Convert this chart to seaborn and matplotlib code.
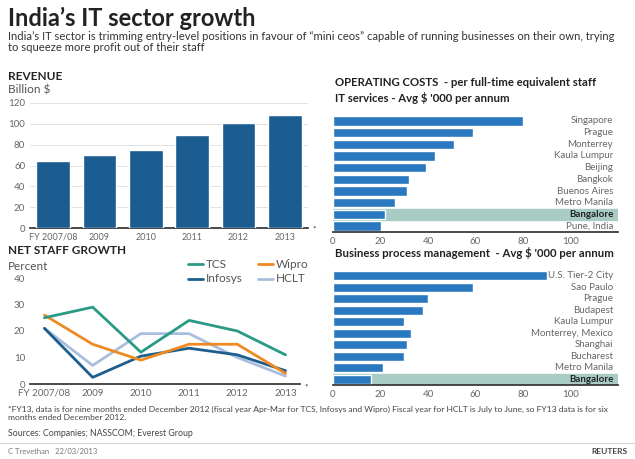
import matplotlib
matplotlib.use("Agg")
import matplotlib.pyplot as plt
import seaborn as sns
import pandas as pd

years = ["FY 2007/08", "2009", "2010", "2011", "2012", "2013"]
revenue = [64, 70, 75, 89, 101, 108]
tcs = [25, 29, 12, 24, 20, 11]
wipro = [26, 15, 9, 15, 15, 4]
infosys = [21, 2.5, 10.5, 13.5, 11, 5]
hclt = [21, 7, 19, 19, 10, 3]
it_cities = ["Singapore", "Prague", "Monterrey", "Kaula Lumpur", "Beijing", "Bangkok",
             "Buenos Aires", "Metro Manila", "Bangalore", "Pune, India"]
it_costs = [80, 59, 51, 43, 39, 32, 31, 26, 22, 20]
bpm_cities = ["U.S. Tier-2 City", "Sao Paulo", "Prague", "Budapest", "Kaula Lumpur",
              "Monterrey, Mexico", "Shanghai", "Bucharest", "Metro Manila", "Bangalore"]
bpm_costs = [90, 59, 40, 38, 30, 33, 31, 30, 21, 16]

sns.set_theme(style="white")
plt.rcParams['font.family'] = ['Lato', 'DejaVu Sans']
W, H = 635, 459
fig = plt.figure(figsize=(W/100, H/100), dpi=100)
def ax_px(x0, y0, x1, y1):
    return fig.add_axes([x0/W, 1-y1/H, (x1-x0)/W, (y1-y0)/H])

BLUE = "#2a78bf"
fig.text(8/W, 1-18/H, "India’s IT sector growth", fontsize=17, fontweight="bold", va="center", color="#222")
fig.text(8/W, 1-42/H, "India’s IT sector is trimming entry-level positions in favour of “mini ceos” capable of running businesses on their own, trying\nto squeeze more profit out of their staff",
         fontsize=8.1, va="center", color="#333", linespacing=1.1)

def style(ax):
    for s in ["top", "right", "left"]:
        ax.spines[s].set_visible(False)
    ax.spines["bottom"].set_color("#333")
    ax.tick_params(colors="#666", labelsize=7, length=0)

# revenue
ax = ax_px(30, 103, 308, 228)
df = pd.DataFrame({"year": years, "rev": revenue})
sns.barplot(data=df, x="year", y="rev", color="#1b5c91", saturation=1, width=0.72, ax=ax, zorder=3)
ax.set_ylim(0, 120); ax.set_yticks(range(0, 121, 20))
ax.yaxis.grid(True, color="#dddddd", lw=0.6, zorder=0)
ax.set_xlabel(""); ax.set_ylabel(""); style(ax)
ax.set_xticks(range(6)); ax.set_xticklabels(years, fontsize=6.5)
fig.text(8/W, 1-76/H, "REVENUE", fontsize=8.5, fontweight="bold", va="center")
fig.text(8/W, 1-90/H, "Billion $", fontsize=8.5, va="center", color="#555")
fig.text(312/W, 1-232/H, "*", fontsize=6, color="#333")

# staff
ax = ax_px(30, 278, 300, 384)
rows = []
for name, vals in [("TCS", tcs), ("Wipro", wipro), ("Infosys", infosys), ("HCLT", hclt)]:
    for i, v in enumerate(vals):
        rows.append({"x": i, "v": v, "co": name})
pal = {"TCS": "#2a9a84", "Wipro": "#ee8a22", "Infosys": "#1d5e8e", "HCLT": "#a9bedf"}
order = ["HCLT", "Infosys", "Wipro", "TCS"]
sns.lineplot(data=pd.DataFrame(rows), x="x", y="v", hue="co", hue_order=order, palette=pal, lw=2, ax=ax, legend=False)
ax.set_ylim(0, 40); ax.set_yticks(range(0, 41, 10)); ax.set_xlim(-0.3, 5.3)
ax.set_xticks(range(6)); ax.set_xticklabels(years, fontsize=6.5)
ax.set_xlabel(""); ax.set_ylabel(""); style(ax)
fig.text(8/W, 1-251/H, "NET STAFF GROWTH", fontsize=8.5, fontweight="bold", va="center")
fig.text(8/W, 1-266/H, "Percent", fontsize=8.5, va="center", color="#555")
fig.text(304/W, 1-390/H, "*", fontsize=6, color="#333")
for name, (lx, ly) in {"TCS": (188, 264), "Wipro": (258, 264), "Infosys": (188, 279), "HCLT": (258, 279)}.items():
    fig.add_artist(plt.Line2D([lx/W, (lx+15)/W], [1-ly/H]*2, color=pal[name], lw=2))
    fig.text((lx+18)/W, 1-ly/H, name, fontsize=8.5, va="center", color="#555")

def hbar(y0, y1, cities, vals, title_lines):
    ax = ax_px(333, y0, 618, y1)
    d = pd.DataFrame({"c": cities, "v": vals})
    bi = cities.index("Bangalore")
    ax.axhspan(bi-0.5, bi+0.5, color="#a8cbc4", zorder=0)
    sns.barplot(data=d, y="c", x="v", color=BLUE, saturation=1, orient="h", width=0.8, ax=ax, zorder=2)
    ax.set_xlim(0, 120); ax.set_xticks(range(0, 101, 20))
    ax.set_ylim(len(cities)-0.5, -0.5)
    ax.set_yticks([]); ax.set_xlabel(""); ax.set_ylabel("")
    style(ax)
    for i, c in enumerate(cities):
        ax.text(118, i, c, ha="right", va="center", fontsize=7,
                color="#222" if c == "Bangalore" else "#666",
                fontweight="bold" if c == "Bangalore" else "normal", zorder=3)
    for k, t in enumerate(title_lines):
        fig.text(335/W, 1-(y0-32+15*k)/H, t, fontsize=8.2, fontweight="bold", va="center", color="#222")

hbar(115, 232, it_cities, it_costs, ["OPERATING COSTS  - per full-time equivalent staff", "IT services - Avg $ '000 per annum"])
hbar(270, 385, bpm_cities, bpm_costs, ["", "Business process management  - Avg $ '000 per annum"])

fig.text(8/W, 1-413/H, "*FY13, data is for nine months ended December 2012 (fiscal year Apr-Mar for TCS, Infosys and Wipro) Fiscal year for HCLT is July to June, so FY13 data is for six\nmonths ended December 2012.",
         fontsize=6.1, va="center", color="#444", linespacing=1.15)
fig.text(8/W, 1-433/H, "Sources: Companies; NASSCOM; Everest Group", fontsize=6.3, va="center", color="#444")
fig.add_artist(plt.Line2D([0, 1], [1-443/H]*2, color="#ccc", lw=0.6))
fig.text(8/W, 1-451/H, "C Trevethan   22/03/2013", fontsize=5.5, va="center", color="#777")
fig.text(627/W, 1-451/H, "REUTERS", fontsize=6, fontweight="bold", ha="right", va="center", color="#444")
fig.savefig("out.png", dpi=100)
